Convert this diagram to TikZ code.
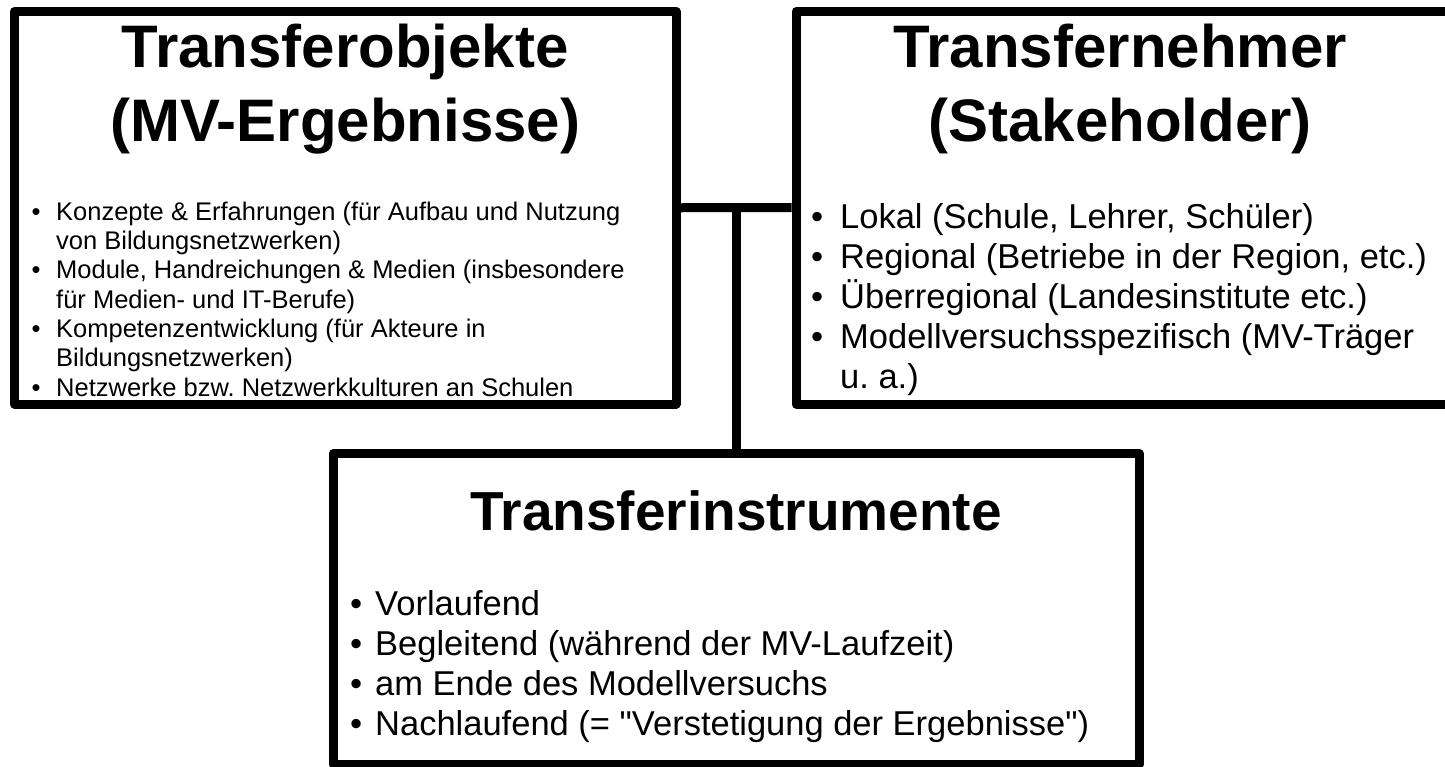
\documentclass[tikz,border=0pt]{standalone}
\usepackage{fontspec}
\setmainfont{Liberation Sans}
\newfontfamily\qf{Liberation Sans}
\newcommand\bul[1]{\makebox[#1pt][l]{\textbullet}}
\frenchspacing
\begin{document}
\begin{tikzpicture}[x=1pt,y=-1pt,
  box/.style={draw, line width=9pt, line join=round, inner sep=0pt, rectangle},
  conn/.style={line width=9pt},
  ttl/.style={font=\bfseries\fontsize{60}{69}\selectfont, anchor=base, inner sep=0pt},
  ttlc/.style={font=\bfseries\fontsize{55}{63}\selectfont, anchor=base, inner sep=0pt},
  sm/.style={font=\fontsize{25.5}{29.3}\selectfont, anchor=base west, inner sep=0pt},
  lg/.style={font=\fontsize{34.5}{40}\selectfont, anchor=base west, inner sep=0pt}]
\useasboundingbox (0,0) rectangle (1445,766);
\clip (0,0) rectangle (1445,766);
\fill[white] (0,0) rectangle (1445,766);
% boxes
\node[box, minimum width=661.5pt, minimum height=392.5pt] (b1) at (345.25,207.75) {};
\node[box, minimum width=659pt, minimum height=393pt] (b2) at (1125.5,207.5) {};
\node[box, minimum width=806pt, minimum height=311pt] (b3) at (736,609) {};
% connectors
\coordinate (j) at (b3.north |- b1.east);
\draw[conn] (b1.east) -- (b2.west);
\draw[conn] (b3.north) -- (j);
% titles
\node[ttl] (t1a) at (345.25,67) {Transferobjekte};
\node[ttl] (t1b) at (345.25,141) {(MV-Ergebnisse)};
\node[ttl] (t2a) at (1120,67) {Transfernehmer};
\node[ttl] (t2b) at (1120,141) {(Stakeholder)};
\node[ttlc] (t3a) at (736,530) {Transferinstrumente};
% box 1 text
\node[sm] (a1) at (31.5,220) {\bul{24.5}Konzepte \& Erfahrungen (für Aufbau und Nutzung};
\node[sm] (a2) at (56,249.3) {von Bildungsnetzwerken)};
\node[sm] (a3) at (31.5,278.7) {\bul{24.5}Module, Handreichungen \& Medien (insbesondere};
\node[sm] (a4) at (56,308) {für Medien- und IT-Berufe)};
\node[sm] (a5) at (31.5,337.3) {\bul{24.5}Kompetenzentwicklung (für Akteure in};
\node[sm] (a6) at (56,366.7) {Bildungsnetzwerken)};
\node[sm] (a7) at (31.5,396) {\bul{24.5}Netzwerke bzw. Netzwerkkulturen an Schulen};
% box 2 text
\node[lg] (s1) at (811,228) {\bul{29}Lokal (Schule, Lehrer, Schüler)};
\node[lg] (s2) at (811,268) {\bul{29}Regional (Betriebe in der Region, etc.)};
\node[lg] (s3) at (811,308) {\bul{29}Überregional (Landesinstitute etc.)};
\node[lg] (s4) at (811,348) {\bul{29}Modellversuchsspezifisch (MV-Träger};
\node[lg] (s5) at (840,388) {u. a.)};
% box 3 text
\node[lg] (i1) at (350,615) {\bul{25}Vorlaufend};
\node[lg] (i2) at (350,655) {\bul{25}Begleitend (während der MV-Laufzeit)};
\node[lg] (i3) at (350,695) {\bul{25}am Ende des Modellversuchs};
\node[lg] (i4) at (350,735) {\bul{25}Nachlaufend (= {\qf"}Verstetigung der Ergebnisse{\qf"})};
\end{tikzpicture}
\end{document}
